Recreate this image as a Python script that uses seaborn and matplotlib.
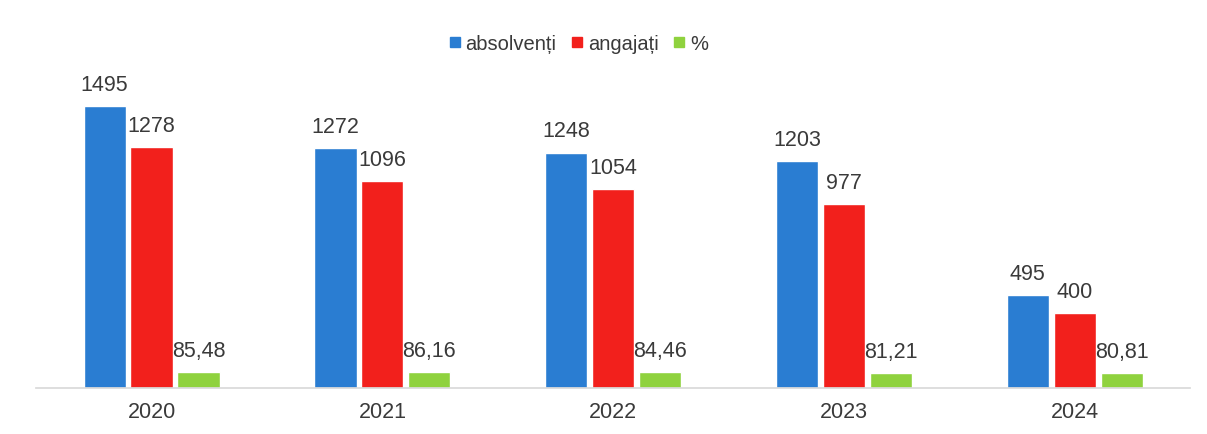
import matplotlib
matplotlib.use("Agg")
import matplotlib.pyplot as plt
import pandas as pd
import seaborn as sns
from matplotlib.lines import Line2D

years = ["2020", "2021", "2022", "2023", "2024"]
absolventi = [1495, 1272, 1248, 1203, 495]
angajati = [1278, 1096, 1054, 977, 400]
procent = [85.48, 86.16, 84.46, 81.21, 80.81]
series = ["absolvenți", "angajați", "%"]
colors = ["#2a7dd2", "#f2201c", "#8fd23e"]

data = pd.DataFrame({
    "year": years * 3,
    "series": [s for s in series for _ in years],
    "value": absolventi + angajati + procent,
})

sns.set_theme(style="white")
plt.rcParams["font.family"] = ["Liberation Sans", "DejaVu Sans"]
text_color = "#3a3a3a"

fig = plt.figure(figsize=(12.07, 4.35), dpi=100)
ax = fig.add_axes([0.030, 0.105, 0.956, 0.695])

sns.barplot(data=data, x="year", y="value", hue="series", hue_order=series,
            palette=colors, width=0.61, gap=0.1, saturation=1, ax=ax,
            legend=False)

for cont in ax.containers:
    labels = [f"{v:g}".replace(".", ",") for v in cont.datavalues]
    ax.bar_label(cont, labels=labels, padding=8, fontsize=15.5, color=text_color)

ax.set_ylim(0, 1600)
ax.set_xlim(-0.5, 4.5)
ax.set_xlabel("")
ax.set_ylabel("")
ax.set_yticks([])
for side in ["left", "right", "top"]:
    ax.spines[side].set_visible(False)
ax.spines["bottom"].set_color("#d9d9d9")
ax.tick_params(axis="x", length=0, pad=9, labelsize=15.5, labelcolor=text_color)

handles = [Line2D([], [], marker="s", linestyle="", markersize=7, color=c)
           for c in colors]
fig.legend(handles, series, loc="center", bbox_to_anchor=(0.479, 0.897), ncol=3,
           frameon=False, fontsize=14.5, handlelength=0.6, handletextpad=0.25,
           columnspacing=0.7, labelcolor=text_color)

fig.savefig("out.png", dpi=100)
